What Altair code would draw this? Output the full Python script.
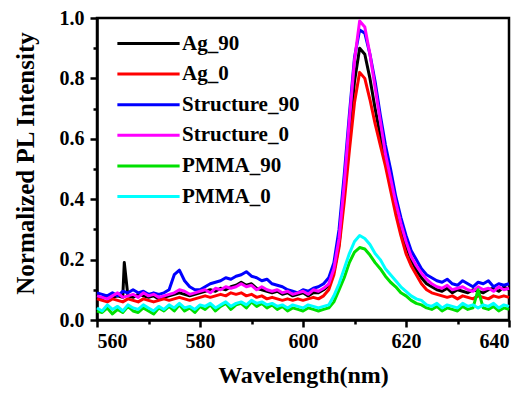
import altair as alt
import pandas as pd

wavelength = list(range(560, 641))

ag_90 = [0.075, 0.07, 0.08, 0.075, 0.08, 0.075, 0.08, 0.075, 0.085, 0.08,
         0.075, 0.08, 0.07, 0.075, 0.08, 0.085, 0.09, 0.085, 0.08, 0.085,
         0.09, 0.095, 0.10, 0.095, 0.105, 0.10, 0.11, 0.115, 0.125, 0.115,
         0.12, 0.105, 0.10, 0.095, 0.09, 0.095, 0.085, 0.09, 0.08, 0.085,
         0.09, 0.08, 0.09, 0.09, 0.10, 0.115, 0.16, 0.25, 0.42, 0.61,
         0.79, 0.90, 0.88, 0.80, 0.70, 0.61, 0.53, 0.45, 0.37, 0.30,
         0.245, 0.20, 0.165, 0.14, 0.12, 0.11, 0.10, 0.095, 0.105, 0.09,
         0.10, 0.095, 0.09, 0.10, 0.095, 0.09, 0.10, 0.105, 0.095, 0.11, 0.10]
ag_90_spike_x = [565.3]
ag_90_spike_y = [0.19]

ag_0 = [0.07, 0.065, 0.06, 0.07, 0.065, 0.06, 0.07, 0.065, 0.06, 0.07,
        0.065, 0.06, 0.065, 0.07, 0.065, 0.07, 0.075, 0.07, 0.065, 0.07,
        0.075, 0.08, 0.075, 0.08, 0.085, 0.08, 0.09, 0.085, 0.09, 0.08,
        0.085, 0.075, 0.08, 0.07, 0.075, 0.07, 0.065, 0.07, 0.065, 0.07,
        0.065, 0.07, 0.075, 0.07, 0.08, 0.10, 0.15, 0.24, 0.39, 0.56,
        0.72, 0.82, 0.80, 0.73, 0.65, 0.58, 0.51, 0.43, 0.35, 0.28,
        0.22, 0.18, 0.15, 0.12, 0.10, 0.09, 0.085, 0.08, 0.075, 0.08,
        0.07, 0.08, 0.075, 0.07, 0.08, 0.075, 0.07, 0.08, 0.075, 0.08, 0.075]

structure_90 = [0.09, 0.085, 0.08, 0.09, 0.08, 0.095, 0.09, 0.10, 0.09, 0.095,
                0.085, 0.09, 0.085, 0.09, 0.10, 0.15, 0.165, 0.13, 0.11, 0.10,
                0.10, 0.11, 0.12, 0.125, 0.13, 0.14, 0.135, 0.145, 0.15, 0.16,
                0.145, 0.14, 0.13, 0.135, 0.12, 0.115, 0.11, 0.10, 0.095, 0.09,
                0.10, 0.095, 0.105, 0.11, 0.12, 0.14, 0.19, 0.30, 0.48, 0.68,
                0.87, 0.96, 0.95, 0.88, 0.79, 0.68, 0.58, 0.50, 0.41, 0.34,
                0.28, 0.23, 0.20, 0.17, 0.15, 0.14, 0.13, 0.125, 0.135, 0.12,
                0.115, 0.13, 0.12, 0.11, 0.125, 0.12, 0.13, 0.11, 0.12, 0.115, 0.12]

structure_0 = [0.08, 0.075, 0.07, 0.08, 0.09, 0.075, 0.08, 0.085, 0.075, 0.09,
               0.08, 0.085, 0.075, 0.08, 0.085, 0.09, 0.10, 0.095, 0.085, 0.09,
               0.095, 0.10, 0.09, 0.105, 0.10, 0.11, 0.105, 0.11, 0.12, 0.11,
               0.115, 0.10, 0.11, 0.10, 0.095, 0.10, 0.09, 0.095, 0.085, 0.09,
               0.095, 0.085, 0.10, 0.095, 0.105, 0.12, 0.17, 0.27, 0.45, 0.66,
               0.86, 0.99, 0.97, 0.88, 0.77, 0.66, 0.55, 0.47, 0.39, 0.32,
               0.26, 0.21, 0.18, 0.155, 0.135, 0.12, 0.11, 0.105, 0.115, 0.10,
               0.105, 0.11, 0.10, 0.095, 0.11, 0.10, 0.105, 0.095, 0.11, 0.10, 0.105]

pmma_90 = [0.03, 0.025, 0.04, 0.02, 0.035, 0.025, 0.045, 0.03, 0.025, 0.04,
           0.03, 0.02, 0.04, 0.03, 0.045, 0.03, 0.05, 0.03, 0.04, 0.025,
           0.045, 0.035, 0.05, 0.03, 0.045, 0.055, 0.035, 0.05, 0.055, 0.04,
           0.06, 0.045, 0.055, 0.04, 0.05, 0.035, 0.045, 0.03, 0.04, 0.035,
           0.03, 0.04, 0.035, 0.03, 0.035, 0.04, 0.06, 0.10, 0.14, 0.19,
           0.225, 0.24, 0.235, 0.215, 0.19, 0.17, 0.145, 0.125, 0.11, 0.09,
           0.08, 0.065, 0.055, 0.05, 0.04, 0.035, 0.045, 0.03, 0.04, 0.035,
           0.03, 0.045, 0.035, 0.04, 0.10, 0.04, 0.035, 0.045, 0.03, 0.04, 0.035]

pmma_0 = [0.04, 0.03, 0.05, 0.035, 0.045, 0.03, 0.05, 0.04, 0.035, 0.05,
          0.04, 0.03, 0.045, 0.035, 0.05, 0.04, 0.055, 0.04, 0.045, 0.035,
          0.05, 0.045, 0.055, 0.04, 0.05, 0.06, 0.045, 0.055, 0.06, 0.05,
          0.065, 0.055, 0.06, 0.05, 0.055, 0.045, 0.05, 0.04, 0.05, 0.045,
          0.04, 0.05, 0.045, 0.04, 0.045, 0.05, 0.08, 0.12, 0.17, 0.22,
          0.26, 0.28, 0.27, 0.25, 0.22, 0.20, 0.17, 0.15, 0.13, 0.11,
          0.095, 0.08, 0.07, 0.065, 0.05, 0.045, 0.055, 0.04, 0.05, 0.045,
          0.04, 0.055, 0.045, 0.05, 0.04, 0.05, 0.045, 0.055, 0.04, 0.05, 0.045]

series_names = ["Ag_90", "Ag_0", "Structure_90", "Structure_0", "PMMA_90", "PMMA_0"]
series_colors = ["#000000", "#FF0000", "#0000FF", "#FF00FF", "#00E000", "#00FFFF"]
x_ticks = list(range(560, 641, 10))
y_ticks = [round(i * 0.1, 1) for i in range(11)]

rows = []
for name, vals in zip(series_names, [ag_90, ag_0, structure_90, structure_0, pmma_90, pmma_0]):
    xs = list(wavelength)
    ys = list(vals)
    if name == "Ag_90":
        xs += ag_90_spike_x
        ys += ag_90_spike_y
    for xv, yv in zip(xs, ys):
        rows.append({"wl": xv, "val": yv, "series": name, "order": series_names.index(name)})
df = pd.DataFrame(rows).sort_values(["order", "wl"])

FONT = "Liberation Serif"

chart = alt.Chart(df).mark_line(strokeWidth=3, strokeJoin="round").encode(
    x=alt.X("wl:Q", scale=alt.Scale(domain=[560, 640], nice=False, zero=False),
            axis=alt.Axis(values=x_ticks, title="Wavelength(nm)",
                          labelExpr="datum.value % 20 == 0 ? datum.label : ''",
                          tickSize={"condition": {"test": "datum.value % 20 == 0", "value": 7}, "value": 4},
                          labelPadding=4, titleY=55, titleBaseline="middle")),
    y=alt.Y("val:Q", scale=alt.Scale(domain=[0, 1.0], nice=False),
            axis=alt.Axis(values=y_ticks, title="Normalized PL Intensity",
                          labelExpr="round(datum.value*10) % 2 == 0 ? format(datum.value, '.1f') : ''",
                          tickSize={"condition": {"test": "round(datum.value*10) % 2 == 0", "value": 7}, "value": 4},
                          labelPadding=6, titleX=-72, titleY=145, titleAngle=270,
                          titleAlign="center", titleBaseline="middle")),
    color=alt.Color("series:N", scale=alt.Scale(domain=series_names, range=series_colors),
                    legend=alt.Legend(title=None, orient="none", legendX=41, legendY=15,
                                      symbolType="M-5,0H5", symbolSize=155, symbolStrokeWidth=3,
                                      labelOffset=23, rowPadding=8.6, padding=0,
                                      labelFont=FONT, labelFontSize=21, labelFontWeight="bold",
                                      labelColor="#000000")),
    order=alt.Order("order:Q"),
    detail="series:N",
).properties(
    width=412, height=302,
    autosize=alt.AutoSizeParams(type="none"),
    padding={"left": 89, "top": 10, "right": 8, "bottom": 68},
).configure_view(
    stroke="#000000", strokeWidth=2.5
).configure_axis(
    grid=False, domainColor="#000000", domainWidth=2.5, tickColor="#000000", tickWidth=2.5,
    labelFont=FONT, labelFontSize=20, labelFontWeight="bold", labelColor="#000000",
    titleFont=FONT, titleFontWeight="bold", titleColor="#000000",
).configure_axisX(titleFontSize=24).configure_axisY(titleFontSize=25)

chart.save("out.html", embed_options={"renderer": "svg", "actions": False})
